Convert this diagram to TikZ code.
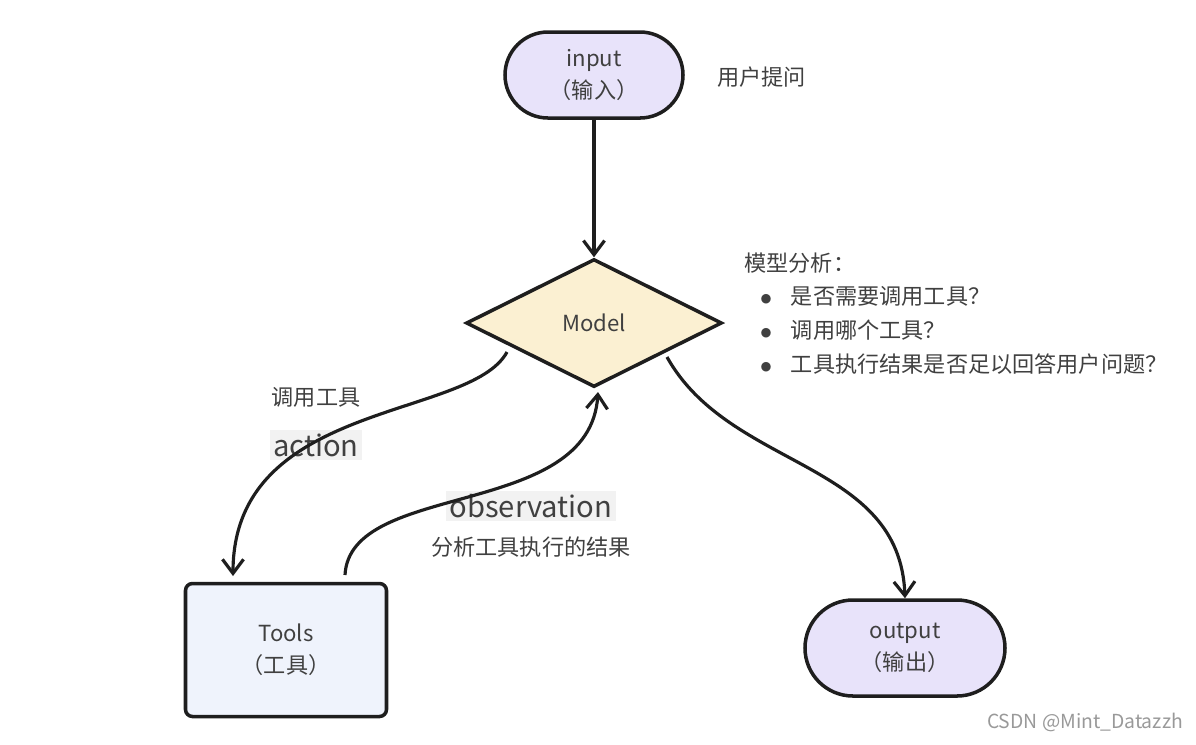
\documentclass[tikz,border=0pt]{standalone}
\usepackage{fontspec}
\setmainfont{Noto Sans CJK SC}
\usetikzlibrary{shapes.geometric,arrows.meta}
\definecolor{lav}{HTML}{E8E3FA}
\definecolor{cream}{HTML}{FBF0D2}
\definecolor{pale}{HTML}{EFF3FC}
\definecolor{ink}{HTML}{1E1E1E}
\begin{document}
\begin{tikzpicture}[x=0.01cm,y=-0.01cm]
        \tikzstyle{term} = [rectangle, rounded corners=43*0.01cm, draw=ink, line width=1pt, align=center, font=\fontsize{6.3}{9}\selectfont, text=ink!85]
        \tikzstyle{note} = [font=\fontsize{6.3}{9}\selectfont, text=ink!85]
        \tikzstyle{big} = [font=\fontsize{8.3}{10}\selectfont, text=ink!85, fill=gray!10, inner sep=1pt]
        \tikzstyle{line} = [-{Straight Barb[length=4pt,width=6pt]},draw=ink,line width=0.9pt]
        \useasboundingbox (0,0) rectangle (1196,744);
        \node[term,fill=lav,minimum width=178*0.01cm,minimum height=86*0.01cm] (input) at (594,75) {input\\（输入）};
        \node[note,anchor=west] (ask) at (705,77) {用户提问};
        \node[diamond,aspect=2,draw=ink,line width=1pt,fill=cream,minimum width=256*0.01cm,minimum height=128*0.01cm,inner sep=0pt,note] (model) at (594,323) {Model};
        \node[note,anchor=north west,align=left,font=\fontsize{6.3}{9.6}\selectfont] (think) at (732,240) {模型分析：\\
            \hspace*{1.5mm}$\bullet$\hspace{1.8mm}是否需要调用工具？\\
            \hspace*{1.5mm}$\bullet$\hspace{1.8mm}调用哪个工具？\\
            \hspace*{1.5mm}$\bullet$\hspace{1.8mm}工具执行结果是否足以回答用户问题？};
        \node[term,rounded corners=2pt,fill=pale,minimum width=201*0.01cm,minimum height=133*0.01cm] (tools) at (286,650) {Tools\\（工具）};
        \node[term,fill=lav,minimum width=200*0.01cm,minimum height=96*0.01cm,rounded corners=48*0.01cm] (output) at (905,648) {output\\（输出）};
        \node[note] (call) at (316,397) {调用工具};
        \node[big] (action) at (316,445) {action};
        \node[big] (obs) at (531,506) {observation};
        \node[note] (result) at (531,547) {分析工具执行的结果};
        \node[font=\fontsize{5.5}{7}\selectfont,text=gray!80] (mark) at (1085,722) {CSDN @Mint\_Datazzh};
        \coordinate (a0) at (507,352);
        \coordinate (a1) at (233,576);
        \coordinate (o0) at (345,575);
        \coordinate (o1) at (598,392);
        \coordinate (p0) at (667,357);
        \draw[line] (input) to (model.north);
        \draw[line] (a0) .. controls (470,420) and (233,400) .. (a1);
        \draw[line] (o0) .. controls (350,480) and (590,520) .. (o1);
        \draw[line] (p0) .. controls (730,470) and (900,460) .. (output.north);
\end{tikzpicture}
\end{document}
